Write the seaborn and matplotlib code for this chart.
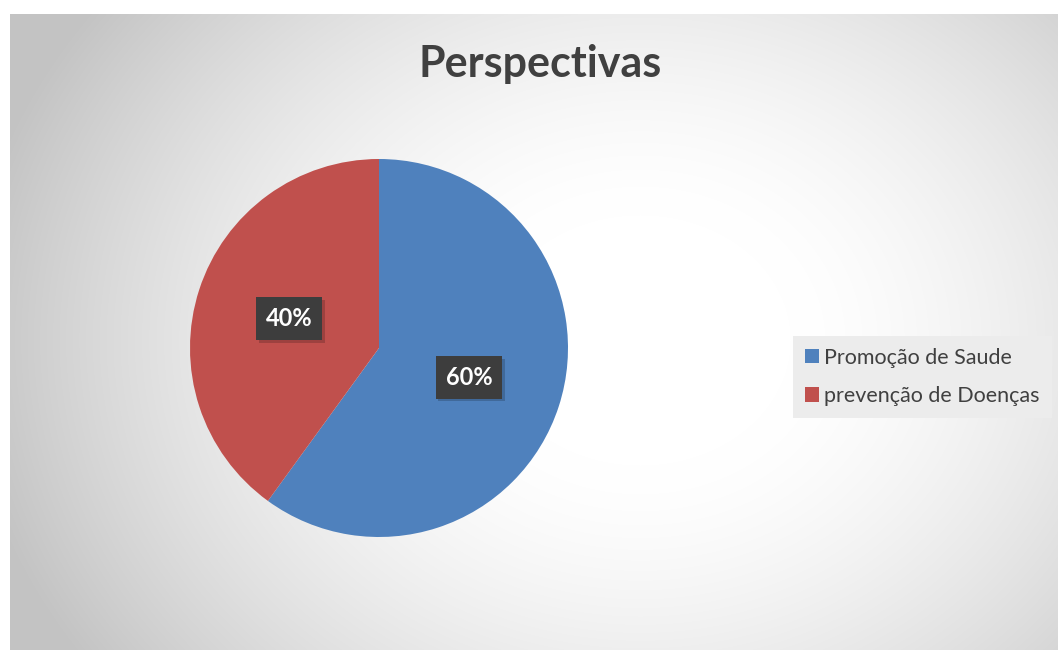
import numpy as np
import matplotlib
matplotlib.use("Agg")
import matplotlib.pyplot as plt
import matplotlib.patheffects as pe
import seaborn as sns

categories = ["Promoção de Saude", "prevenção de Doenças"]
values = [60, 40]
colors = ["#4F81BD", "#C0504D"]
title = "Perspectivas"

sns.set_theme(style="white")
plt.rcParams['font.family'] = ['Lato', 'DejaVu Sans']

W, H = 1058, 650
fig = plt.figure(figsize=(W / 100, H / 100), dpi=100)
fig.patch.set_facecolor("white")

# background radial gradient
bx0, by0, bx1, by1 = 10, 14, 1058, 650
bg = fig.add_axes([bx0 / W, 1 - by1 / H, (bx1 - bx0) / W, (by1 - by0) / H])
xs = np.arange(bx0, bx1)
ys = np.arange(by0, by1)
X, Y = np.meshgrid(xs, ys)
cx, cy = 640, 340
d = np.sqrt((X - cx) ** 2 + (1.2 * (Y - cy)) ** 2)
t = np.clip((d - 150) / 500.0, 0, None)
g = 255 - 55 * t ** 1.5
g = np.clip(g, 195, 255) / 255.0
img = np.dstack([g, g, g])
bg.imshow(img, aspect="auto", extent=[0, 1, 0, 1], origin="upper")
bg.set_xlim(0, 1)
bg.set_ylim(0, 1)
bg.axis("off")

# pie
pcx, pcy, r = 379, 348, 189
ax = fig.add_axes([(pcx - r) / W, 1 - (pcy + r) / H, 2 * r / W, 2 * r / H])
ax.set_facecolor("none")
wedges, texts, autotexts = ax.pie(
    values, colors=colors, startangle=90, counterclock=False,
    autopct="%1.0f%%", pctdistance=0.5, radius=1,
    wedgeprops=dict(linewidth=0),
    textprops=dict(color="white", fontsize=17, fontweight="bold"),
)
for t in autotexts:
    t.set_bbox(dict(boxstyle="square,pad=0.42", facecolor="#3d3d3d", edgecolor="none"))
    t.get_bbox_patch().set_path_effects(
        [pe.SimplePatchShadow(offset=(2, -2), shadow_rgbFace="black", alpha=0.18), pe.Normal()])
ax.set_xlim(-1, 1)
ax.set_ylim(-1, 1)
ax.set_aspect("equal")
ax.axis("off")

fig.text(540 / W, 1 - 64 / H, title, ha="center", va="center",
         fontsize=31, fontweight="bold", color="#404040")

leg = fig.legend(wedges, categories, loc="center left",
                 bbox_to_anchor=(793 / W, 1 - 377 / H),
                 frameon=True, fontsize=15.5, handlelength=0.65, handleheight=0.65,
                 handletextpad=0.25, labelspacing=0.85, borderpad=0.55, borderaxespad=0,
                 fancybox=False)
leg.get_frame().set_facecolor("#ececec")
leg.get_frame().set_edgecolor("none")
leg.get_frame().set_alpha(1)
for t in leg.get_texts():
    t.set_color("#404040")

fig.savefig("out.png", dpi=100)
